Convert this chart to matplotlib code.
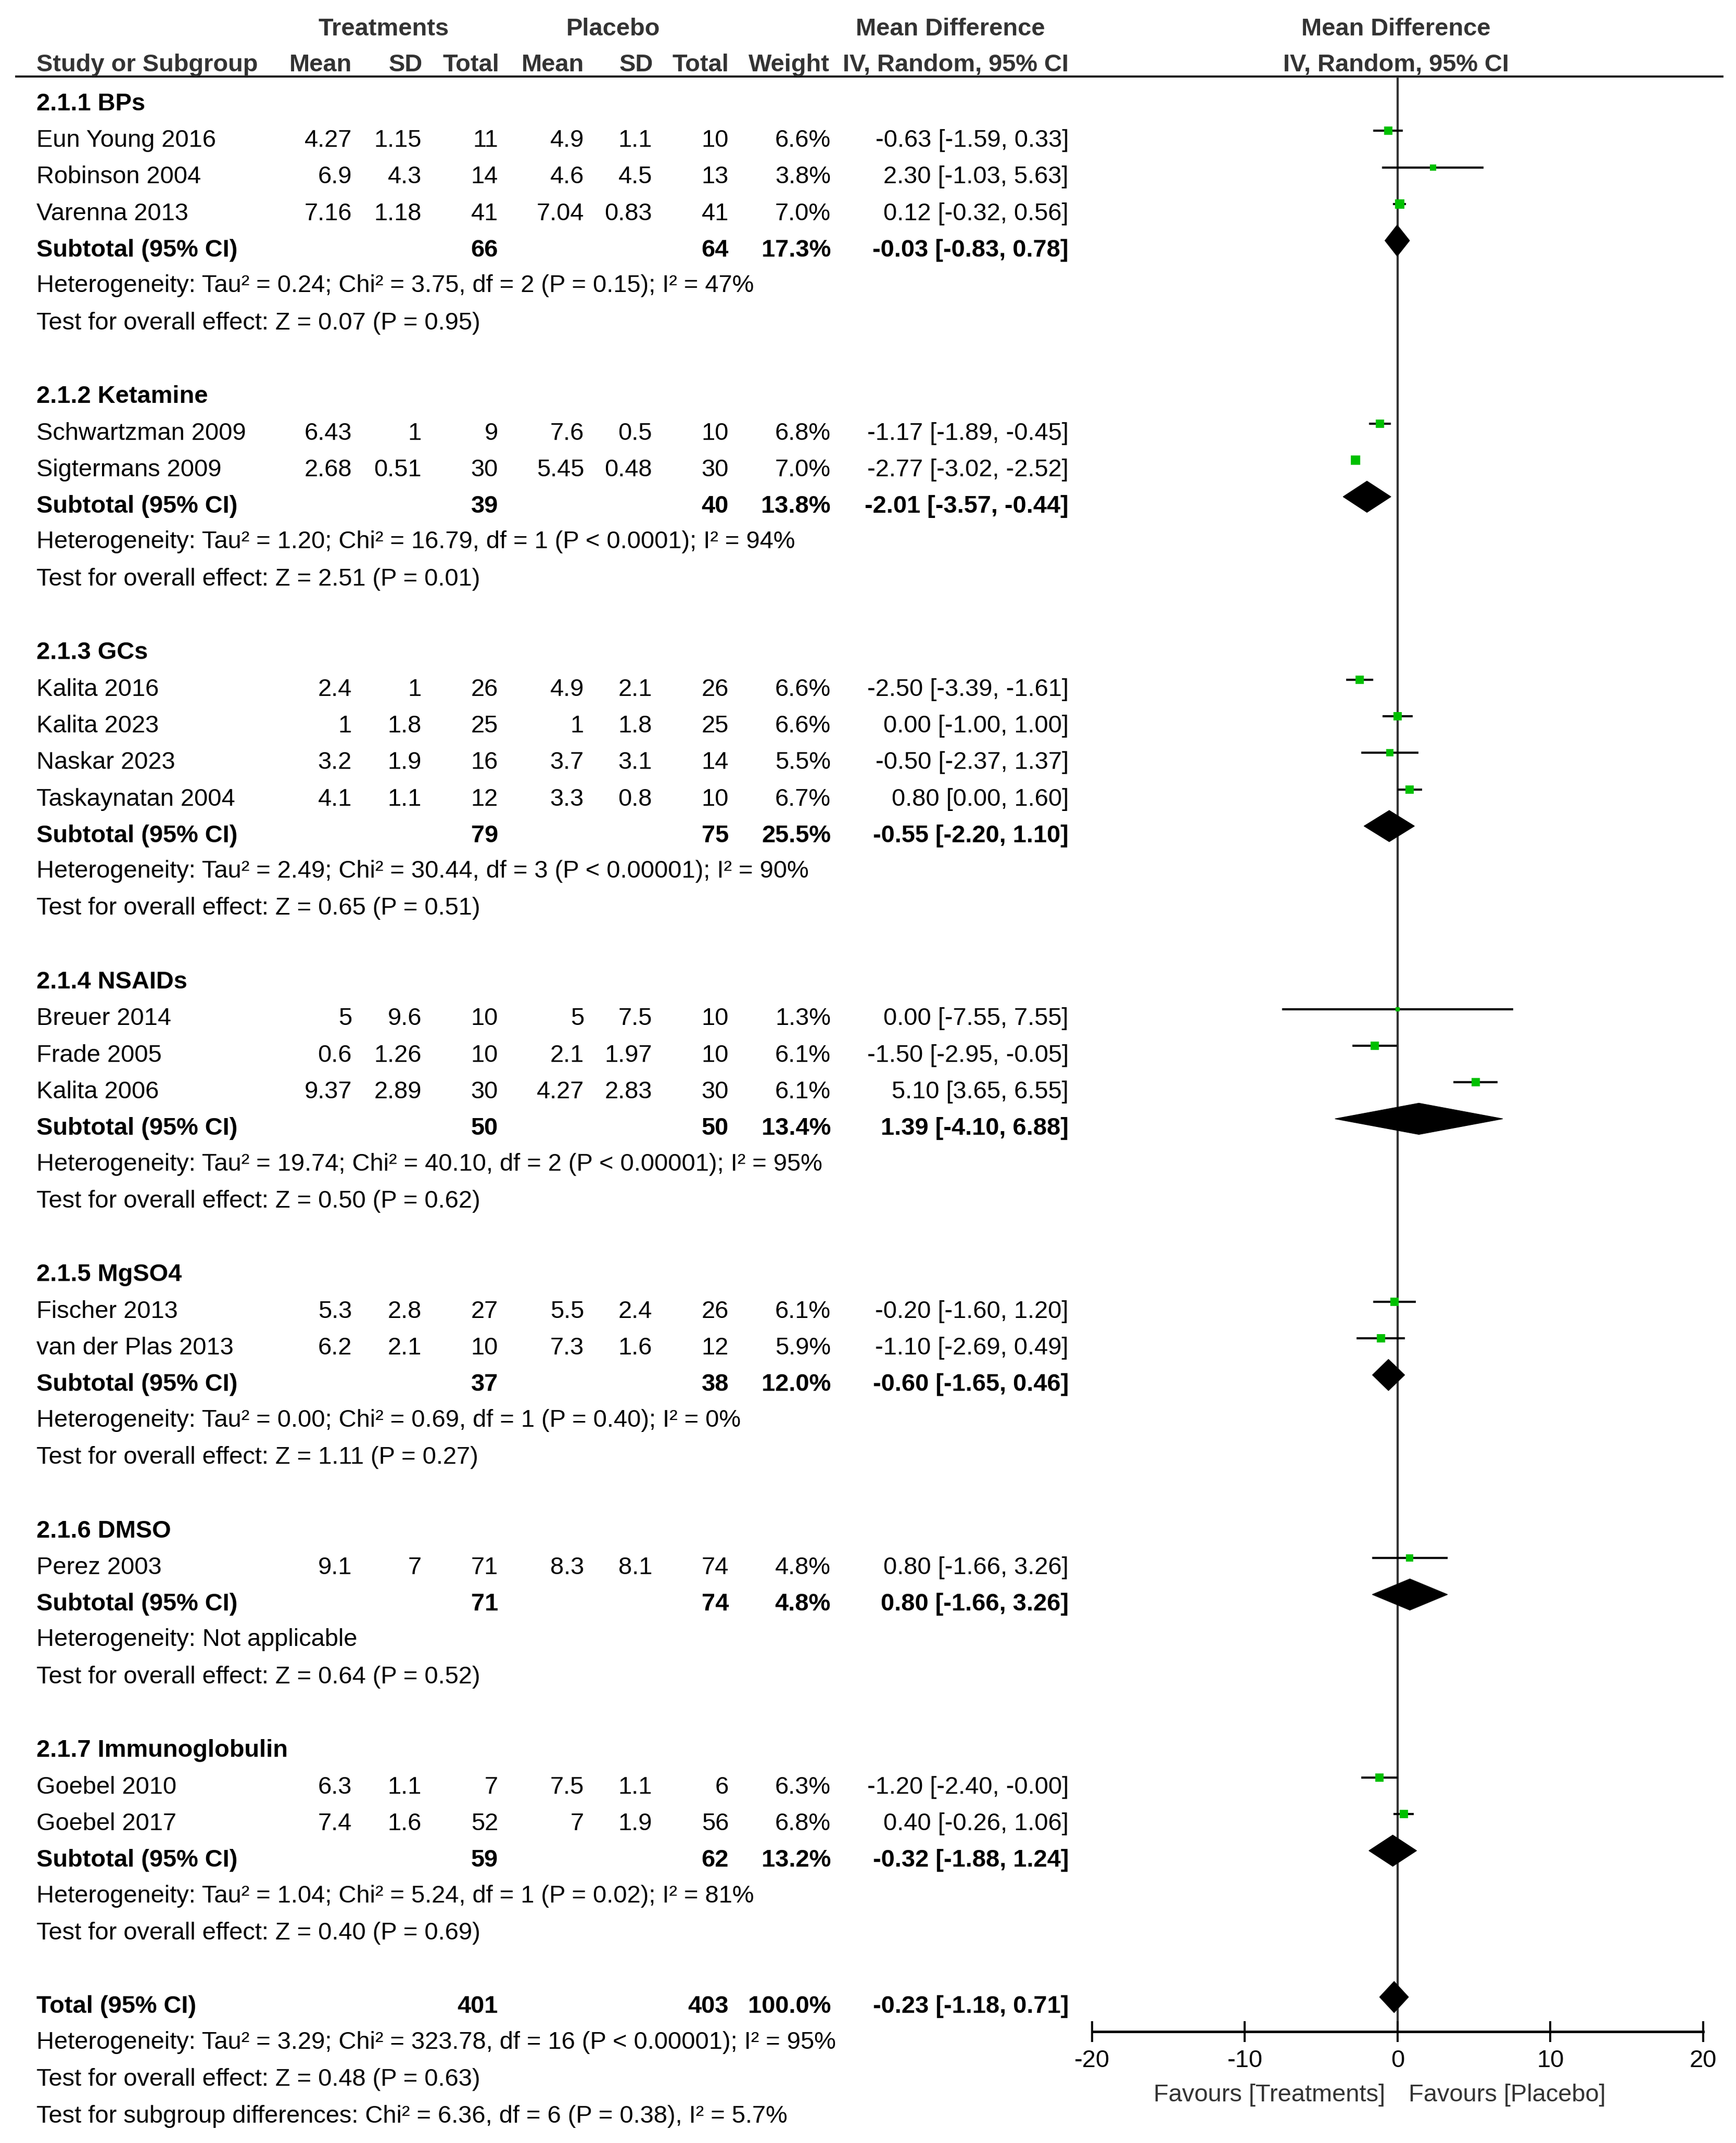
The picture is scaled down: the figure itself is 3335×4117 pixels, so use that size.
import matplotlib
matplotlib.use('Agg')
import matplotlib.pyplot as plt
from matplotlib import font_manager
from matplotlib.patches import Polygon

# ---- data ----
groups = ['2.1.1 BPs', '2.1.2 Ketamine', '2.1.3 GCs', '2.1.4 NSAIDs',
          '2.1.5 MgSO4', '2.1.6 DMSO', '2.1.7 Immunoglobulin']

studies = ['Eun Young 2016', 'Robinson 2004', 'Varenna 2013',
           'Schwartzman 2009', 'Sigtermans 2009',
           'Kalita 2016', 'Kalita 2023', 'Naskar 2023', 'Taskaynatan 2004',
           'Breuer 2014', 'Frade 2005', 'Kalita 2006',
           'Fischer 2013', 'van der Plas 2013',
           'Perez 2003',
           'Goebel 2010', 'Goebel 2017']
study_group = [0, 0, 0, 1, 1, 2, 2, 2, 2, 3, 3, 3, 4, 4, 5, 6, 6]

trt_mean = [4.27, 6.9, 7.16, 6.43, 2.68, 2.4, 1, 3.2, 4.1, 5, 0.6, 9.37, 5.3, 6.2, 9.1, 6.3, 7.4]
trt_sd = [1.15, 4.3, 1.18, 1, 0.51, 1, 1.8, 1.9, 1.1, 9.6, 1.26, 2.89, 2.8, 2.1, 7, 1.1, 1.6]
trt_n = [11, 14, 41, 9, 30, 26, 25, 16, 12, 10, 10, 30, 27, 10, 71, 7, 52]
pla_mean = [4.9, 4.6, 7.04, 7.6, 5.45, 4.9, 1, 3.7, 3.3, 5, 2.1, 4.27, 5.5, 7.3, 8.3, 7.5, 7]
pla_sd = [1.1, 4.5, 0.83, 0.5, 0.48, 2.1, 1.8, 3.1, 0.8, 7.5, 1.97, 2.83, 2.4, 1.6, 8.1, 1.1, 1.9]
pla_n = [10, 13, 41, 10, 30, 26, 25, 14, 10, 10, 10, 30, 26, 12, 74, 6, 56]
weight = [6.6, 3.8, 7.0, 6.8, 7.0, 6.6, 6.6, 5.5, 6.7, 1.3, 6.1, 6.1, 6.1, 5.9, 4.8, 6.3, 6.8]
md = [-0.63, 2.30, 0.12, -1.17, -2.77, -2.50, 0.00, -0.50, 0.80, 0.00, -1.50, 5.10,
      -0.20, -1.10, 0.80, -1.20, 0.40]
md_lo = [-1.59, -1.03, -0.32, -1.89, -3.02, -3.39, -1.00, -2.37, 0.00, -7.55, -2.95, 3.65,
         -1.60, -2.69, -1.66, -2.40, -0.26]
md_hi = [0.33, 5.63, 0.56, -0.45, -2.52, -1.61, 1.00, 1.37, 1.60, 7.55, -0.05, 6.55,
         1.20, 0.49, 3.26, -0.004, 1.06]

sub_trt_n = [66, 39, 79, 50, 37, 71, 59]
sub_pla_n = [64, 40, 75, 50, 38, 74, 62]
sub_weight = [17.3, 13.8, 25.5, 13.4, 12.0, 4.8, 13.2]
sub_md = [-0.03, -2.01, -0.55, 1.39, -0.60, 0.80, -0.32]
sub_lo = [-0.83, -3.57, -2.20, -4.10, -1.65, -1.66, -1.88]
sub_hi = [0.78, -0.44, 1.10, 6.88, 0.46, 3.26, 1.24]
sub_het = ['Heterogeneity: Tau\u00b2 = 0.24; Chi\u00b2 = 3.75, df = 2 (P = 0.15); I\u00b2 = 47%',
           'Heterogeneity: Tau\u00b2 = 1.20; Chi\u00b2 = 16.79, df = 1 (P < 0.0001); I\u00b2 = 94%',
           'Heterogeneity: Tau\u00b2 = 2.49; Chi\u00b2 = 30.44, df = 3 (P < 0.00001); I\u00b2 = 90%',
           'Heterogeneity: Tau\u00b2 = 19.74; Chi\u00b2 = 40.10, df = 2 (P < 0.00001); I\u00b2 = 95%',
           'Heterogeneity: Tau\u00b2 = 0.00; Chi\u00b2 = 0.69, df = 1 (P = 0.40); I\u00b2 = 0%',
           'Heterogeneity: Not applicable',
           'Heterogeneity: Tau\u00b2 = 1.04; Chi\u00b2 = 5.24, df = 1 (P = 0.02); I\u00b2 = 81%']
sub_test = ['Z = 0.07 (P = 0.95)', 'Z = 2.51 (P = 0.01)', 'Z = 0.65 (P = 0.51)',
            'Z = 0.50 (P = 0.62)', 'Z = 1.11 (P = 0.27)', 'Z = 0.64 (P = 0.52)',
            'Z = 0.40 (P = 0.69)']

total_trt_n = 401
total_pla_n = 403
total_weight = 100.0
total_md = -0.23
total_lo = -1.18
total_hi = 0.71
total_het = 'Heterogeneity: Tau\u00b2 = 3.29; Chi\u00b2 = 323.78, df = 16 (P < 0.00001); I\u00b2 = 95%'
total_test = 'Test for overall effect: Z = 0.48 (P = 0.63)'
subgroup_test = 'Test for subgroup differences: Chi\u00b2 = 6.36, df = 6 (P = 0.38), I\u00b2 = 5.7%'

x_ticks = [-20, -10, 0, 10, 20]
favours_left = 'Favours [Treatments]'
favours_right = 'Favours [Placebo]'

# ---- layout (pixels) ----
W, H, DPI = 3336, 4117, 300
GREEN = '#00c000'
HEAD = '#333333'

names = {f.name for f in font_manager.fontManager.ttflist}
family = 'Liberation Sans Narrow' if 'Liberation Sans Narrow' in names else 'Liberation Sans'
plt.rcParams['font.family'] = [family, 'DejaVu Sans']
plt.rcParams['axes.unicode_minus'] = False

fig = plt.figure(figsize=(W / DPI, H / DPI), dpi=DPI)

# pick a font size so a heterogeneity line is as wide as in the original
probe = fig.text(0, 0, sub_het[0], fontsize=10)
probe_w = probe.get_window_extent(fig.canvas.get_renderer()).width
probe.remove()
FS = 10 * 1379 / probe_w
em = FS * DPI / 72
cap_half = 0.716 * em / 2

tax = fig.add_axes([0, 0, 1, 1])
tax.set_xlim(0, W)
tax.set_ylim(H, 0)
tax.axis('off')

# column right edges
X_NAME = 70
X_M1, X_SD1, X_N1 = 676, 810, 957
X_M2, X_SD2, X_N2 = 1122, 1253, 1400
X_W, X_CI = 1596, 2053
X_PLOT = 2682


def row_y(k):
    return 195 + 70.3 * k


def put(x, y, s, ha='left', bold=False, color='black'):
    tax.text(x, y + cap_half, s, ha=ha, va='baseline', fontsize=FS,
             fontweight='bold' if bold else 'normal', color=color)


def ci_text(m, lo, hi):
    return f'{m:.2f} [{lo:.2f}, {hi:.2f}]'


# header
for x, s in [(737, 'Treatments'), (1178, 'Placebo'), (1826, 'Mean Difference'),
             (X_PLOT, 'Mean Difference')]:
    put(x, 51, s, ha='center', bold=True, color=HEAD)
put(X_NAME, 120, 'Study or Subgroup', bold=True, color=HEAD)
for x, s in [(X_M1, 'Mean'), (X_SD1 + 2, 'SD'), (X_N1 + 2, 'Total'), (X_M2, 'Mean'),
             (X_SD2 + 2, 'SD'), (X_N2, 'Total'), (X_W - 2, 'Weight'),
             (X_CI, 'IV, Random, 95% CI')]:
    put(x, 120, s, ha='right', bold=True, color=HEAD)
put(X_PLOT, 120, 'IV, Random, 95% CI', ha='center', bold=True, color=HEAD)
tax.hlines(147, 29, 3311, color='black', lw=0.9)

# forest axes: x in mean-difference units, y in pixels
fax = fig.add_axes([2098 / W, 0, (3272 - 2098) / W, 1])
fax.set_xlim(x_ticks[0], x_ticks[-1])
fax.set_ylim(H, 0)
fax.patch.set_visible(False)
for s in ['top', 'left', 'right']:
    fax.spines[s].set_visible(False)
AXIS_Y = 3903
fax.spines['bottom'].set_position(('data', AXIS_Y))
fax.spines['bottom'].set_linewidth(1.15)
fax.spines['bottom'].set_bounds(x_ticks[0], x_ticks[-1])
fax.set_yticks([])
fax.set_xticks(x_ticks)
fax.set_xticklabels([str(t) for t in x_ticks])
fax.tick_params(axis='x', direction='inout', length=9.4, width=0.95, pad=3.4,
                labelsize=FS, colors='black')
fax.vlines(0, 147, AXIS_Y, color='#333333', lw=1.0, zorder=1)

MARK_DY = -14


def diamond(m, lo, hi, y):
    fax.add_patch(Polygon([(lo, y), (m, y - 30), (hi, y), (m, y + 30)], closed=True,
                          fc='black', ec='black', lw=0.3, zorder=3))


k = 0
for g, gname in enumerate(groups):
    put(X_NAME, row_y(k), gname, bold=True)
    k += 1
    for i in [j for j, gg in enumerate(study_group) if gg == g]:
        y = row_y(k)
        put(X_NAME, y, studies[i])
        put(X_M1, y, f'{trt_mean[i]:g}', ha='right')
        put(X_SD1, y, f'{trt_sd[i]:g}', ha='right')
        put(X_N1, y, f'{trt_n[i]}', ha='right')
        put(X_M2, y, f'{pla_mean[i]:g}', ha='right')
        put(X_SD2, y, f'{pla_sd[i]:g}', ha='right')
        put(X_N2, y, f'{pla_n[i]}', ha='right')
        put(X_W, y, f'{weight[i]:.1f}%', ha='right')
        put(X_CI, y, ci_text(md[i], md_lo[i], md_hi[i]), ha='right')
        fy = y + MARK_DY
        fax.hlines(fy, md_lo[i], md_hi[i], color='black', lw=1.0, zorder=2)
        side = 6 + 1.6 * weight[i]
        fax.plot(md[i], fy, 's', ms=side * 72 / DPI, color=GREEN, mec='none', zorder=4)
        k += 1
    y = row_y(k)
    put(X_NAME, y, 'Subtotal (95% CI)', bold=True)
    put(X_N1, y, f'{sub_trt_n[g]}', ha='right', bold=True)
    put(X_N2, y, f'{sub_pla_n[g]}', ha='right', bold=True)
    put(X_W, y, f'{sub_weight[g]:.1f}%', ha='right', bold=True)
    put(X_CI, y, ci_text(sub_md[g], sub_lo[g], sub_hi[g]), ha='right', bold=True)
    diamond(sub_md[g], sub_lo[g], sub_hi[g], y + MARK_DY)
    k += 1
    put(X_NAME, row_y(k) - 2, sub_het[g])
    k += 1
    put(X_NAME, row_y(k) - 1, 'Test for overall effect: ' + sub_test[g])
    k += 2

y = row_y(k)
put(X_NAME, y, 'Total (95% CI)', bold=True)
put(X_N1, y, f'{total_trt_n}', ha='right', bold=True)
put(X_N2, y, f'{total_pla_n}', ha='right', bold=True)
put(X_W, y, f'{total_weight:.1f}%', ha='right', bold=True)
put(X_CI, y, ci_text(total_md, total_lo, total_hi), ha='right', bold=True)
diamond(total_md, total_lo, total_hi, y + MARK_DY)
put(X_NAME, row_y(k + 1) - 2, total_het)
put(X_NAME, row_y(k + 2) - 1, total_test)
put(X_NAME, row_y(k + 3), subgroup_test)

put(2661, 4020, favours_left, ha='right', color=HEAD)
put(2706, 4020, favours_right, ha='left', color=HEAD)

fig.savefig('out.png', dpi=DPI)
plt.close(fig)
